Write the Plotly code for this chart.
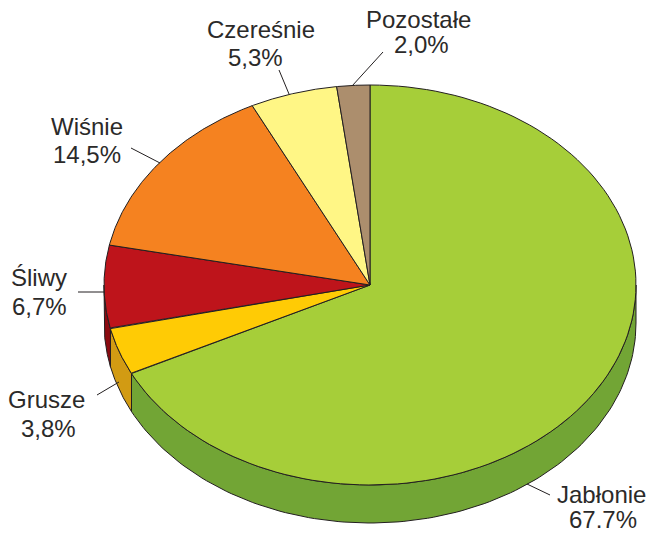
import numpy as np
import plotly.graph_objects as go

# --- data ---
categories = ["Jabłonie", "Grusze", "Śliwy", "Wiśnie", "Czereśnie", "Pozostałe"]
values = [67.7, 3.8, 6.7, 14.5, 5.3, 2.0]
value_labels = ["67.7%", "3,8%", "6,7%", "14,5%", "5,3%", "2,0%"]

# --- styles ---
top_colors = ["#A6CE39", "#FFCB05", "#BE141B", "#F58220", "#FFF685", "#AC8E6D"]
side_colors = ["#72A535", "#D29B13", "#8C0A10", "#C0651A", "#CFC76A", "#8A7155"]
edge = "#231F20"
text_color = "#2B2A29"
font_family = "Liberation Sans"
font_px = 24

# --- geometry (page pixels) ---
W, H = 647, 534
cx, cy, rx, ry, depth = 370, 285, 266, 200, 38
label_pos = [(601, 494, 603, 519.5), (46, 399, 48, 428), (39, 277, 39, 306),
             (87, 126, 87, 154), (261, 29, 255, 57), (418, 19, 421, 44)]
leaders = [((550, 495), (527, 484)), ((97, 395), (119, 382)), ((78, 292), (104, 292)),
           ((131, 148), (160, 163)), ((279, 70), (289, 94)), ((383, 52), (352, 86))]


def rim(t0, t1, dy=0.0, n=120):
    t = np.radians(np.linspace(t0, t1, n))
    return cx + rx * np.sin(t), cy - ry * np.cos(t) + dy


fig = go.Figure()


def poly(x, y, color, width=1.0):
    fig.add_trace(go.Scatter(x=list(x), y=list(y), mode="lines", fill="toself",
                             fillcolor=color, line=dict(color=edge, width=width),
                             hoverinfo="skip", showlegend=False))


edges = np.concatenate([[0], np.cumsum(values)]) * 3.6

# side walls: only the front half of the rim (90..270 degrees) is visible
for i in range(len(values)):
    a, b = max(edges[i], 90), min(edges[i + 1], 270)
    if a >= b:
        continue
    xt, yt = rim(a, b)
    xb, yb = rim(b, a, depth)
    poly(np.r_[xt, xb, xt[0]], np.r_[yt, yb, yt[0]], side_colors[i])

# top face
for i in range(len(values)):
    xt, yt = rim(edges[i], edges[i + 1])
    poly(np.r_[cx, xt, cx], np.r_[cy, yt, cy], top_colors[i])

# leader lines
for (p, q) in leaders:
    fig.add_trace(go.Scatter(x=[p[0], q[0]], y=[p[1], q[1]], mode="lines",
                             line=dict(color=edge, width=1),
                             hoverinfo="skip", showlegend=False))

# labels
for name, val, (x1, y1, x2, y2) in zip(categories, value_labels, label_pos):
    for txt, lx, ly in ((name, x1, y1), (val, x2, y2)):
        fig.add_annotation(x=lx, y=ly, text=txt, showarrow=False, xanchor="center",
                           yanchor="middle", borderpad=0,
                           font=dict(family=font_family, size=font_px, color=text_color))

fig.update_layout(width=W, height=H, margin=dict(l=0, r=0, t=0, b=0),
                  paper_bgcolor="white", plot_bgcolor="white", showlegend=False,
                  xaxis=dict(range=[0, W], visible=False, fixedrange=True),
                  yaxis=dict(range=[H, 0], visible=False, fixedrange=True))
fig.write_html("out.html", config=dict(displayModeBar=False),
               post_script="document.body.style.margin='0';document.body.style.overflow='hidden';")
